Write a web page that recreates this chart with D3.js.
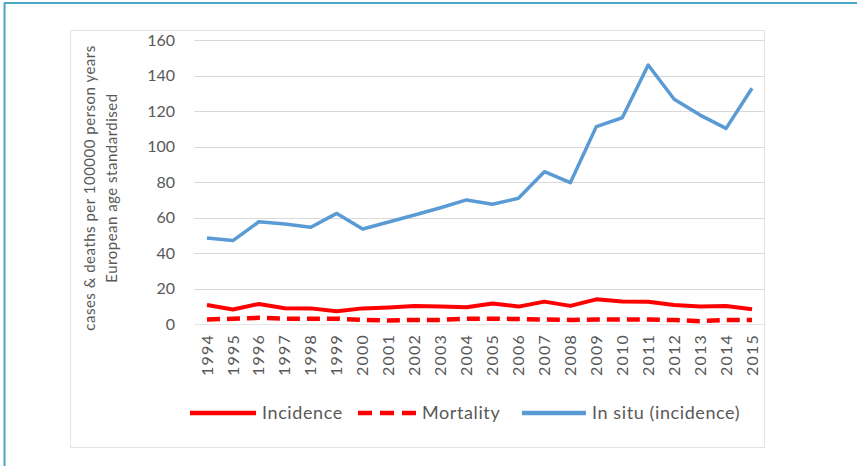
<!DOCTYPE html>
<html>
<head>
<meta charset="utf-8">
<script src="https://cdn.jsdelivr.net/npm/d3@7"></script>
<style>
  body { margin:0; background:#fff; }
  text { font-family: Lato, "Open Sans", sans-serif; fill:#595959; }
</style>
</head>
<body>
<svg></svg>
<script>
// values
var years = [1994,1995,1996,1997,1998,1999,2000,2001,2002,2003,2004,2005,2006,2007,2008,2009,2010,2011,2012,2013,2014,2015];
var incidence = [10.7,8.2,11.3,8.9,8.8,7.2,8.8,9.3,10.1,9.8,9.4,11.6,9.8,12.6,10.2,13.9,12.7,12.5,10.7,9.8,10.1,8.3];
var mortality = [2.5,3,3.5,3,3,3,2.3,2,2.3,2.3,3,3,2.8,2.5,2.3,2.5,2.5,2.5,2.2,1.6,2.3,2.3];
var inSitu = [48.5,47,57.6,56.3,54.5,62.3,53.5,57.5,61.4,65.5,69.9,67.5,70.8,85.8,79.6,111.2,116.2,145.9,126.6,117.7,110.2,132.8];
var yTicks = [0,20,40,60,80,100,120,140,160];
var seriesNames = ["Incidence","Mortality","In situ (incidence)"];

var svgwidth = 857;
var svgheight = 466;
var svg = d3.select('svg').attr('width',svgwidth).attr('height',svgheight);

// outer frame (teal lines top and left)
svg.append('line').attr('x1',4).attr('x2',857).attr('y1',3).attr('y2',3)
   .attr('stroke','#4aa6c4').attr('stroke-width',2);
svg.append('line').attr('x1',4.5).attr('x2',4.5).attr('y1',3).attr('y2',466)
   .attr('stroke','#4aa6c4').attr('stroke-width',2);

// chart box
svg.append('rect').attr('x',70.5).attr('y',30.5).attr('width',694).attr('height',417)
   .attr('fill','none').attr('stroke','#e3e3e3').attr('stroke-width',1);

var margins = {top:40, left:194, right:92, bottom:142};
var width = svgwidth - margins.left - margins.right;
var height = svgheight - margins.top - margins.bottom;

var xScale = d3.scaleBand().domain(years).range([0,width]);
var yScale = d3.scaleLinear().domain([0,160]).range([height,0]);

var plot = svg.append('g')
   .attr('transform','translate('+margins.left+','+margins.top+')');

// gridlines
plot.append('g').selectAll('line').data(yTicks.slice(1)).enter().append('line')
    .attr('x1',0).attr('x2',width)
    .attr('y1',function(d){return Math.round(yScale(d))+0.5;})
    .attr('y2',function(d){return Math.round(yScale(d))+0.5;})
    .attr('stroke','#d9d9d9').attr('stroke-width',1);

// y axis
var yAxis = d3.axisLeft(yScale).tickValues(yTicks).tickSize(0).tickPadding(19);
var yg = plot.append('g').call(yAxis);
yg.select('.domain').remove();
yg.selectAll('text').style('font-size','16px').attr('fill','#595959');

// x axis
var xAxis = d3.axisBottom(xScale).tickSize(0);
var xg = plot.append('g').attr('transform','translate(0,'+height+')').call(xAxis);
xg.select('.domain').attr('stroke','#e6e6e6');
xg.selectAll('text')
  .style('font-size','16px').style('letter-spacing','1.2px').attr('fill','#595959')
  .attr('transform','rotate(-90)')
  .attr('text-anchor','end')
  .attr('dy','0.35em')
  .attr('x',-10).attr('y',0);

// y axis title
var yt = svg.append('text').attr('transform','translate(95,188) rotate(-90)')
   .attr('text-anchor','middle').style('font-size','15px').style('letter-spacing','0.5px');
yt.append('tspan').attr('x',0).attr('dy',0).text('cases & deaths per 100000 person years');
yt.append('tspan').attr('x',0).attr('dy','1.45em').text('European age standardised');

var xPos = function(d,i){ return xScale(years[i]) + xScale.bandwidth()/2; };
var line = d3.line().x(function(d,i){return xPos(d,i);}).y(function(d){return yScale(d);});

plot.append('path').datum(inSitu).attr('d',line)
    .attr('fill','none').attr('stroke','#5b9bd5').attr('stroke-width',3.5)
    .attr('stroke-linejoin','round');
plot.append('path').datum(incidence).attr('d',line)
    .attr('fill','none').attr('stroke','#ff0000').attr('stroke-width',4)
    .attr('stroke-linejoin','round');
plot.append('path').datum(mortality).attr('d',line)
    .attr('fill','none').attr('stroke','#ff0000').attr('stroke-width',4.5)
    .attr('stroke-dasharray','13,7');

// legend
var legendItems = [
  {name:seriesNames[0], x:190, w:66, color:'#ff0000', dash:null},
  {name:seriesNames[1], x:358, w:58, color:'#ff0000', dash:'14,8'},
  {name:seriesNames[2], x:522, w:64, color:'#5b9bd5', dash:null}
];
var legend = svg.append('g').attr('transform','translate(0,413)');
legend.selectAll('g').data(legendItems).enter().append('g').each(function(d){
  var g = d3.select(this);
  g.append('line').attr('x1',d.x).attr('x2',d.x+d.w).attr('y1',0).attr('y2',0)
   .attr('stroke',d.color).attr('stroke-width',4.5)
   .attr('stroke-dasharray',d.dash);
  g.append('text').attr('x',d.x+d.w+6).attr('y',0).attr('dy','0.35em')
   .style('font-size','18px').style('letter-spacing','0.6px').text(d.name);
});
</script>
</body>
</html>
